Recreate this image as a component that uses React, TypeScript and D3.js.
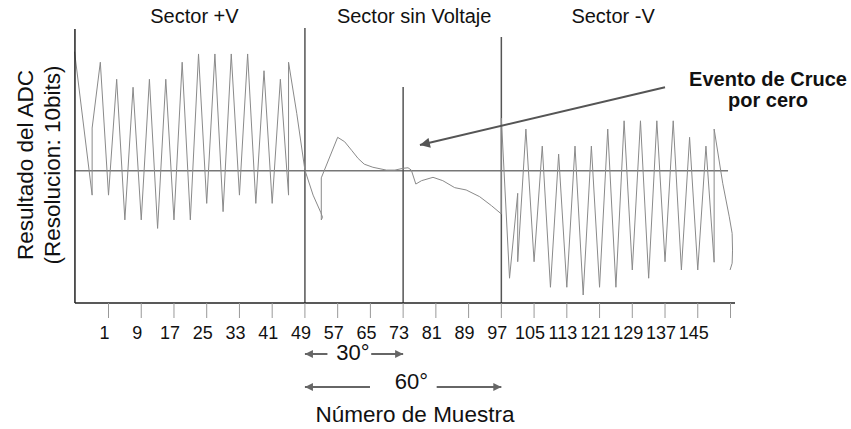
import * as d3 from "d3";

// [número de muestra, resultado del ADC]
const sectorPositivo: [number, number][] = [
  [-7.3, 974], [-3, 418], [-3, 678], [-1, 933], [1, 418], [3, 867], [5, 322], [7, 836],
  [9, 322], [11, 867], [13, 289], [15, 867], [17, 322], [19, 933], [21, 322], [23, 965],
  [25, 386], [27, 965], [29, 354], [31, 965], [33, 418], [35, 965], [37, 386], [39, 900],
  [41, 386], [43, 867], [45, 418], [45, 933], [47, 735], [49, 515], [51, 418],
  [52.9, 350], [53.3, 332], [53.0, 322], [53.0, 485],
];

const sectorSinVoltaje: [number, number][] = [
  [57, 642], [58.7, 625], [60.5, 590], [62, 560], [63.5, 538], [65.6, 526], [68.9, 515],
  [71, 515], [73, 522], [74.2, 524], [75, 515], [76.1, 461], [77.5, 474], [80.3, 487],
  [82.7, 474], [85.6, 447], [88.4, 438], [91.7, 412], [94.6, 377], [97, 345],
];

const sectorNegativo: [number, number][] = [
  [97, 716], [99, 96], [101, 425], [101, 160], [103, 674], [105, 160], [107, 608], [109, 61],
  [111, 577], [113, 61], [115, 608], [117, 31], [119, 608], [121, 61], [123, 674], [125, 61],
  [127, 706], [129, 128], [131, 706], [133, 96], [135, 706], [137, 160], [139, 706], [141, 128],
  [143, 642], [145, 128], [147, 608], [149, 158], [149, 674], [151.1, 464], [152.7, 334],
  [153.4, 270], [153.5, 205], [153.4, 154], [152.9, 128],
];

const etiquetasX = [1, 9, 17, 25, 33, 41, 49, 57, 65, 73, 81, 89, 97, 105, 113, 121, 129, 137, 145];
const marcasX = [...etiquetasX, 153];

const limitesSector = [49, 73, 97];
const alturaLimites = [1066, 837, 1031];
const nivelCero = 512;

const titulosSector = ["Sector +V", "Sector sin Voltaje", "Sector -V"];

const FONT = "'Liberation Sans', Arial, sans-serif";

export default function App() {
  const width = 851;
  const height = 429;

  const x = d3.scaleLinear().domain([1, 153]).range([108.5, 730.5]);
  const y = d3.scaleLinear().domain([0, 1023]).range([303, 39]);

  const datos = [...sectorPositivo, ...sectorSinVoltaje, ...sectorNegativo];
  const linea = d3.line<[number, number]>().x((d) => x(d[0])).y((d) => y(d[1]));

  const x0 = x(-7.2);
  const xFin = x(154.1);
  const yBase = y(0);
  const yTope = y(1062);

  const centrosTitulo = [22, 75.7, 124.3];

  return (
    <svg
      width={width}
      height={height}
      style={{ position: "absolute", left: 0, top: 0, background: "#fff" }}
      fontFamily={FONT}
    >
      <defs>
        <marker id="flecha" viewBox="0 0 10 10" refX="10" refY="5" markerWidth="14" markerHeight="10"
          markerUnits="userSpaceOnUse" orient="auto">
          <path d="M0,0L10,5L0,10Z" fill="#555" />
        </marker>
        <marker id="flechaChica" viewBox="0 0 10 10" refX="10" refY="5" markerWidth="10" markerHeight="8"
          markerUnits="userSpaceOnUse" orient="auto">
          <path d="M0,0L10,5L0,10Z" fill="#666" />
        </marker>
      </defs>

      {/* titulos de sector */}
      {titulosSector.map((t, i) => (
        <text key={t} x={x(centrosTitulo[i])} y={23} fontSize={20} textAnchor="middle" fill="#111">
          {t}
        </text>
      ))}

      {/* linea de cero */}
      <line x1={x0} x2={x(152.4)} y1={y(nivelCero)} y2={y(nivelCero)} stroke="#777" strokeWidth={1.5} />

      {/* limites de sector */}
      {limitesSector.map((n, i) => (
        <line key={n} x1={x(n)} x2={x(n)} y1={yBase} y2={y(alturaLimites[i])} stroke="#555" strokeWidth={1.5} />
      ))}

      {/* señal */}
      <path d={linea(datos) ?? ""} fill="none" stroke="#8a8a8a" strokeWidth={1} />

      {/* ejes */}
      <line x1={x0} x2={x0} y1={yTope} y2={yBase} stroke="#222" strokeWidth={1.5} />
      <line x1={x0} x2={xFin} y1={yBase} y2={yBase} stroke="#222" strokeWidth={1.5} />
      {marcasX.map((n) => (
        <line key={n} x1={x(n)} x2={x(n)} y1={yBase} y2={yBase + 15} stroke="#999" strokeWidth={1} />
      ))}
      {etiquetasX.map((n) => (
        <text key={n} x={x(n) - 4} y={339} fontSize={18} textAnchor="middle" fill="#111">
          {n}
        </text>
      ))}

      {/* titulo eje Y */}
      <g transform={`translate(33,165) rotate(-90)`}>
        <text x={0} y={0} fontSize={22.5} textAnchor="middle" fill="#111">Resultado del ADC</text>
        <text x={0} y={27} fontSize={22.5} textAnchor="middle" fill="#111">(Resolucion: 10bits)</text>
      </g>

      {/* titulo eje X */}
      <text x={415} y={422} fontSize={22.5} textAnchor="middle" fill="#111">Número de Muestra</text>

      {/* anotacion cruce por cero */}
      <text x={768} y={85.5} fontSize={20} fontWeight="bold" textAnchor="middle" fill="#111">Evento de Cruce</text>
      <text x={768} y={107} fontSize={20} fontWeight="bold" textAnchor="middle" fill="#111">por cero</text>
      <line x1={x(137)} y1={y(836)} x2={x(77.1)} y2={y(612)} stroke="#555" strokeWidth={2} markerEnd="url(#flecha)" />

      {/* 30° */}
      <line x1={x(54.5)} x2={x(49)} y1={354} y2={354} stroke="#666" strokeWidth={2} markerEnd="url(#flechaChica)" />
      <text x={353} y={360} fontSize={22} textAnchor="middle" fill="#111">30°</text>
      <line x1={x(65.2)} x2={x(73)} y1={354} y2={354} stroke="#666" strokeWidth={2} markerEnd="url(#flechaChica)" />

      {/* 60° */}
      <line x1={x(64.9)} x2={x(49)} y1={387} y2={387} stroke="#666" strokeWidth={2} markerEnd="url(#flechaChica)" />
      <text x={411.5} y={389} fontSize={22} textAnchor="middle" fill="#111">60°</text>
      <line x1={x(81.2)} x2={x(97)} y1={387} y2={387} stroke="#666" strokeWidth={2} markerEnd="url(#flechaChica)" />
    </svg>
  );
}
